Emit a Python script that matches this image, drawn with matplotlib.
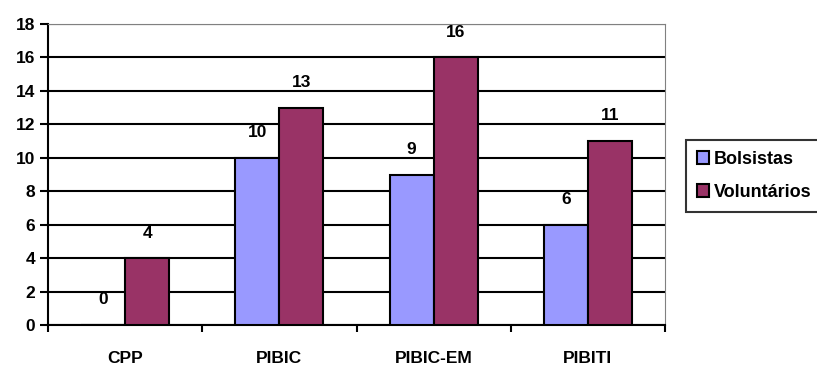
import numpy as np
import matplotlib.pyplot as plt

# Bolsistas x Voluntários por programa
categorias = ['CPP', 'PIBIC', 'PIBIC-EM', 'PIBITI']
bolsistas = [0, 10, 9, 6]
voluntarios = [4, 13, 16, 11]

cor_bolsistas = '#9999FF'
cor_voluntarios = '#993366'

plt.rcParams['font.family'] = ['Liberation Sans', 'DejaVu Sans']
plt.rcParams['font.weight'] = 'bold'

fig = plt.figure(figsize=(8.17, 3.65), dpi=100)
ax = fig.add_axes([48 / 817, 1 - 325 / 365, 617 / 817, 301 / 365])

x = np.arange(len(categorias))
w = 0.286
b1 = ax.bar(x - w / 2, bolsistas, w, color=cor_bolsistas, edgecolor='black',
            linewidth=1.5, label='Bolsistas', zorder=3)
b2 = ax.bar(x + w / 2, voluntarios, w, color=cor_voluntarios, edgecolor='black',
            linewidth=1.5, label='Voluntários', zorder=3)

# rótulos de valor acima das barras
for barras, vals in ((b1, bolsistas), (b2, voluntarios)):
    for r, v in zip(barras, vals):
        ax.text(r.get_x() + r.get_width() / 2, v + 1.05, str(v), ha='center',
                va='bottom', fontsize=12.5, fontweight='bold')

ax.set_xlim(-0.5, len(categorias) - 0.5)
ax.set_ylim(0, 18)
ax.set_yticks(np.arange(0, 19, 2))
ax.yaxis.grid(True, color='black', linewidth=1.5, zorder=0)
ax.set_axisbelow(True)

# ticks nas divisões entre categorias, rótulos no centro
ax.set_xticks(np.arange(-0.5, len(categorias), 1))
ax.set_xticklabels([])
ax.set_xticks(x, minor=True)
ax.set_xticklabels(categorias, minor=True, fontsize=12.5, fontweight='bold')
ax.tick_params(axis='x', which='minor', length=0, pad=19)
ax.tick_params(axis='x', which='major', length=5, width=1.5, direction='out')
ax.tick_params(axis='y', length=6, width=1.5, labelsize=12.5, pad=3)

ax.spines['left'].set_linewidth(1.5)
ax.spines['bottom'].set_linewidth(1.5)
ax.spines['top'].set_color('#808080')
ax.spines['right'].set_color('#808080')

leg = fig.legend(handles=[b1, b2], loc='upper left',
                 bbox_to_anchor=(686 / 817, 1 - 140 / 365), frameon=True,
                 fancybox=False, edgecolor='black', fontsize=13,
                 handlelength=0.7, handleheight=0.7, handletextpad=0.25,
                 borderpad=0.6, labelspacing=0.9, borderaxespad=0)
leg.get_frame().set_linewidth(1.5)
for t in leg.get_texts():
    t.set_fontweight('bold')

fig.savefig('out.png', dpi=100)
